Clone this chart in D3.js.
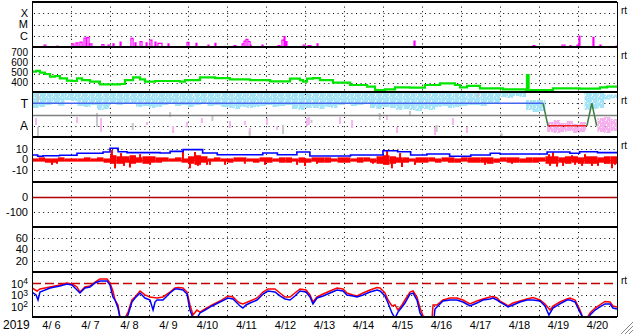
<!DOCTYPE html>
<html>
<head>
<meta charset="utf-8">
<script src="https://cdn.jsdelivr.net/npm/d3@7"></script>
<style>
body { margin: 0; background: #fff; }
svg { display: block; font-family: "Liberation Sans", Arial, sans-serif; }
</style>
</head>
<body>
<script>
// ---- data (hours since 2019-04-06 00:00 UT) ----

// x-ray flux events: [start hour, end hour, log10 W/m2]
const xrayEvents = [
  [7.4, 8.6, -6.82], [15.4, 16, -6.91], [24.6, 25.8, -6.73], [27.1, 28.3, -6.64],
  [29.5, 30.8, -6.56], [32, 33.2, -6.2], [33.8, 35.1, -6.14], [35.7, 36.9, -6.73],
  [43, 44.3, -6.78], [46.8, 48, -6.82], [49.8, 50.5, -6.73], [54.2, 54.8, -6.56],
  [60.9, 62.2, -6.23], [63.4, 64, -6.64], [66.5, 67.7, -6.53], [70.2, 70.8, -6.64],
  [72.6, 73.8, -6.38], [75.7, 76.3, -6.56], [77.5, 80, -6.67], [83.7, 84.3, -6.73],
  [95.4, 96.6, -6.58], [100.9, 101.5, -6.67], [108.3, 108.9, -6.82], [112.6, 113.2, -6.67],
  [124.3, 125.5, -6.88], [129.3, 130.5, -6.73], [130.5, 131.7, -6.47], [131.7, 132.9, -6.32],
  [132.9, 134.2, -6.51], [134.2, 134.8, -6.82], [141.5, 142.2, -6.82], [151.4, 152.6, -6.88],
  [153.8, 155.1, -6.38], [155.1, 155.7, -6.08], [156.3, 156.9, -6.53], [166.8, 168, -6.82],
  [169.8, 171.7, -6.88], [175.4, 176, -6.73], [235.1, 235.7, -6.47], [308.3, 309.5, -6.88],
  [326.2, 328, -6.82], [331.1, 331.7, -6.88], [335.4, 336, -6.82], [336.6, 337.2, -6.02],
  [345.2, 345.8, -6.14], [349.5, 350.2, -6.82], [359.4, 360, -6.91]
];

// solar wind speed km/s: [hour, value]
const windSpeed = [
  [0, 526], [2.5, 535], [4.9, 515], [8, 500], [11.1, 470], [14.2, 478], [17.2, 452],
  [21.5, 426], [24.6, 422], [27.7, 452], [30.8, 433], [35.7, 415], [41.8, 385], [48, 385],
  [54.2, 389], [57.2, 433], [62.2, 463], [66.5, 441], [69.5, 415], [75.7, 422], [81.8, 422],
  [91.1, 415], [94.2, 433], [103.4, 463], [112.6, 455], [121.8, 441], [134.2, 433],
  [146.5, 418], [158.8, 448], [164.9, 433], [166.8, 415], [169.2, 448], [172.9, 455],
  [177.2, 433], [185.2, 404], [195.7, 378], [206.2, 359], [211.1, 322], [217.2, 330],
  [223.4, 352], [232.6, 348], [241.8, 378], [251.1, 396], [260.3, 378], [263.4, 352],
  [267.7, 367], [275.7, 341], [281.8, 341], [289.8, 330], [300.3, 330], [304, 322],
  [304.6, 489], [305.6, 322], [312.6, 322], [320.6, 341], [324.9, 341], [337.2, 337],
  [349.5, 352], [353.8, 359], [360, 367]
];

// IMF sector: [hour, "T"/"A"]
const sector = [[0, "T"], [314.5, "T"], [317.5, "A"], [341.5, "A"], [344.5, "T"], [347.5, "A"]];

// IMF longitude scatter, 4 h bins: upper / lower angle (deg), null = no data
const cyanHi = [
  352,352,352,352,352,352,352,352,352,352, 352,352,352,352,352,352,352,352,352,352,
  352,352,352,352,352,352,352,352,352,352, 352,352,352,352,352,352,352,352,352,352,
  352,352,352,352,352,352,352,352,352,352, 352,352,352,352,352,352,352,352,352,352,
  352,352,352,352,352,352,352,352,352,352, 352,352,360,360,360,360,296,296,296,null,
  null,null,null,null,null,352,352,352,340,340
];
const cyanLo = [
  232,240,256,264,250,296,288,248,240,256, 216,224,264,256,272,264,240,248,232,240,
  256,264,248,256,240,256,264,248,256,240, 232,224,240,232,240,248,256,240,248,256,
  224,216,232,232,224,240,232,256,264,248, 256,264,232,224,240,232,216,224,216,208,
  224,216,240,248,232,240,248,256,256,248, 264,272,320,312,328,320,216,200,208,null,
  null,null,null,null,null,216,224,232,300,310
];
// narrow streaks: [hour, upper deg, lower deg]
const pinkStreaks = [
  [2.5, 152, 96], [27.7, 160, 112], [42.5, 152, 40], [70.8, 120, 96], [86.8, 88, 32],
  [95.4, 120, 80], [104.6, 152, 112], [121.8, 128, 72], [131, 128, 96], [134, 72, 16],
  [144.6, 152, 96], [150.8, 88, 56], [169.2, 152, 88], [170.4, 160, 96], [189.5, 160, 104],
  [197, 136, 72], [218.5, 176, 136], [224.6, 80, 32], [248, 80, 16], [259, 152, 96],
  [267.7, 80, 32]
];
// away-sector pink blocks: [start hour, end hour, upper deg, lower deg]
const pinkBlocks = [
  [317, 321, 120, 40], [321, 325, 136, 32], [325, 329, 112, 40], [329, 333, 128, 48],
  [333, 337, 104, 32], [337, 341, 120, 40], [348, 352, 152, 40], [352, 356, 160, 32],
  [356, 360, 144, 48]
];
const grayStreaks = [
  [3.7, 352, 272], [3.7, 80, 0], [40, 192, 80], [62, 112, 56], [85, 200, 160],
  [111, 176, 128], [134, 48, 8], [154.5, 96, 24], [172, 136, 112], [214, 192, 136],
  [232.6, 208, 168], [249, 96, 40], [274.5, 360, 320], [289, 32, 0]
];

// IMF Bt (nT): [hour, value]
const bt = [
  [0, 4.2], [3.5, 3], [6.8, 3.5], [17, 4], [27.7, 5.8], [43.7, 7], [48, 10.5], [53, 7.3],
  [58.5, 6.4], [78.8, 6], [85, 7.6], [93, 9.2], [105, 6], [114, 4.5], [142, 6], [151, 4.5],
  [163, 7], [171, 3.3], [196, 4.2], [216, 8.2], [225, 7.3], [233, 4.2], [243, 5.1],
  [257, 3], [270, 4.2], [282, 5.8], [288, 5.1], [317, 7], [331, 5.8], [337, 7.3],
  [348, 6.4], [360, 6.4]
];
// IMF Bz (nT), 4 h bins: typical high / low of the trace
const bzHi = [
  1,2,1,1,2,1,1,1,2,1, 2,1,4,3,3,4,2,3,3,2,
  2,1,2,1,3,4,3,1,2,1, 1,2,2,1,1,2,2,1,2,2,
  1,2,1,2,2,2,1,2,2,1, 2,2,1,3,4,3,2,2,1,2,
  2,2,1,2,2,1,2,2,2,2, 2,1,2,2,2,1,2,2,2,3,
  3,2,3,3,2,3,3,2,3,3
];
const bzLo = [
  -2,-2,-3,-3,-2,-2,-2,-2,-2,-2, -2,-3,-4,-4,-3,-4,-3,-4,-3,-3,
  -2,-2,-2,-3,-4,-5,-3,-2,-2,-2, -3,-2,-2,-2,-3,-2,-3,-2,-3,-3,
  -2,-3,-3,-2,-3,-3,-2,-3,-3,-2, -3,-2,-3,-4,-5,-4,-3,-3,-2,-3,
  -3,-2,-3,-2,-3,-3,-2,-3,-3,-3, -4,-3,-2,-3,-3,-3,-3,-3,-2,-4,
  -4,-3,-4,-3,-4,-4,-4,-3,-4,-4
];
// Bz excursions: [hour, nT]
const bzSpikes = [
  [12.3, -5], [15.4, -4], [49.2, 9], [51.1, -8.3], [54.8, 6], [56.6, -6], [60.3, -7.5],
  [66.5, 5], [72.6, -5], [92.9, 7.7], [97.2, -8.2], [100.3, 7], [102.2, -6], [107.7, -5],
  [109.5, -5], [118.8, -5], [131, -4], [143.4, -5], [163.1, -5], [168, -6], [175.4, -4],
  [209.8, -4], [218.5, 8.2], [221.5, -8.2], [226.5, 6], [227.7, -7], [235.7, -5],
  [278.8, -5], [295.4, -4], [318.2, 5], [318.8, -6], [320.6, 6.7], [323.1, -6.7],
  [326.8, -6], [332.3, 4], [334.2, -5], [338.5, -6], [340.3, 5], [344.6, -6], [348.3, -6],
  [352.6, -4], [356.9, -8.2], [358.8, -5]
];

// >2 MeV electron flux, log10: [hour, value]
const eRed = [
  [0,3.58],[3.1,3.31],[4.9,3.49],[11.1,3.67],[17.2,3.84],[21.5,4.02],[24.6,3.93],[27.7,3.67],
  [29.5,3.22],[32.6,3.67],[35.7,3.76],[38.8,4.11],[41.8,4.38],[46.2,4.38],[48,4.02],[49.8,3.31],
  [51.1,2.51],[52.9,2.07],[54.2,0.9],[57.2,0.9],[59.1,1.44],[61.5,2.51],[63.4,2.78],[66.5,3.31],
  [69.5,2.96],[72.6,2.78],[76.9,2.69],[80.6,2.78],[84.9,3.22],[88,3.58],[89.8,3.62],[92.9,3.58],
  [95.4,3.22],[97.2,2.07],[99.1,1.18],[101.5,1.62],[103.4,1.44],[106.5,1.71],[110.8,2.07],
  [115.7,2.42],[120.6,2.87],[123.7,2.78],[126.2,2.42],[128,2.24],[129.8,2.16],[134.2,2.42],
  [138.5,2.69],[142.2,3.22],[145.2,3.49],[149.5,3.49],[152.6,3.13],[155.7,2.78],[158.8,2.78],
  [161.8,3.13],[164.9,3.49],[168.6,3.4],[171.1,2.96],[172.9,2.33],[175.4,2.78],[179.1,3.04],
  [183.4,3.31],[187.7,3.58],[191.4,3.49],[193.8,3.13],[197.5,2.96],[200,2.87],[203.7,3.13],
  [208,3.4],[212.3,3.62],[214.2,3.58],[217.2,3.13],[219.1,2.51],[221.5,1.98],[223.4,2.07],
  [225.2,1.62],[227.7,2.07],[229.5,2.51],[232.6,3.22],[234.5,3.31],[236.9,2.78],[238.8,1.8],
  [240.6,1.09],[243.1,0.9],[246.2,0.9],[246.8,2.07],[249.2,2.07],[252.9,2.51],[257.2,2.69],
  [261.5,2.69],[265.2,2.51],[269.5,2.16],[273.8,2.42],[277.5,2.6],[281.8,2.78],[283.7,2.82],
  [286.2,2.69],[288,2.42],[291.1,2.16],[292.9,1.98],[296,2.24],[300.3,2.42],[304.6,2.6],
  [308.3,2.73],[312.6,2.51],[315.7,2.16],[318.8,1.62],[320.6,1.98],[324.9,2.33],[329.2,2.6],
  [331.1,2.69],[334.2,2.51],[337.2,1.62],[339.1,0.9],[341.5,0.9],[343.4,1.36],[346.5,1.8],
  [349.5,2.07],[352.6,2.38],[355.7,2.33],[357.5,1.98],[360,1.89]
];
const eBlue = [
  [0,3.22],[2.5,2.96],[3.7,2.51],[4.9,3.22],[11.1,3.58],[17.2,3.76],[21.5,3.93],[24.6,3.84],
  [27.7,3.4],[29.5,3.13],[32.6,3.58],[35.7,3.67],[38.8,4.02],[41.8,4.2],[46.2,4.2],[48,3.84],
  [49.8,2.78],[51.1,2.51],[52.9,1.8],[54.2,0.9],[57.8,0.9],[59.1,1.18],[61.5,2.33],[63.4,2.69],
  [66.5,3.13],[69.5,2.69],[72.6,2.51],[74.5,1.62],[75.7,2.33],[76.9,2.51],[80.6,2.51],
  [84.9,3.13],[88,3.49],[89.8,3.49],[92.9,3.4],[95.4,3.04],[97.2,1.62],[99.1,0.9],[101.5,0.9],
  [103.4,1.36],[106.5,1.62],[110.8,1.98],[115.7,2.33],[120.6,2.69],[123.7,2.6],[126.2,2.24],
  [128,1.98],[129.8,1.8],[131.7,2.07],[134.2,2.24],[138.5,2.51],[142.2,3.04],[145.2,3.31],
  [149.5,3.22],[152.6,2.87],[155.7,2.6],[158.8,2.51],[161.8,2.87],[164.9,3.31],[168.6,3.22],
  [171.1,2.78],[172.9,2.16],[175.4,2.69],[179.1,2.87],[183.4,3.13],[187.7,3.4],[191.4,3.31],
  [193.8,2.96],[197.5,2.87],[200,2.78],[203.7,2.96],[208,3.22],[212.3,3.4],[214.2,3.31],
  [217.2,2.87],[219.1,2.24],[221.5,1.36],[223.4,0.9],[225.2,1.44],[227.7,1.89],[229.5,2.24],
  [232.6,3.04],[234.5,3.13],[236.9,2.51],[238.8,1.36],[240.6,0.9],[247.4,0.9],[248,1.71],
  [249.2,1.89],[252.9,2.42],[257.2,2.51],[261.5,2.51],[265.2,2.33],[269.5,1.98],[273.8,2.24],
  [277.5,2.51],[281.8,2.6],[283.7,2.69],[286.2,2.51],[288,2.33],[291.1,2.07],[292.9,1.89],
  [296,2.07],[300.3,2.33],[304.6,2.51],[308.3,2.51],[312.6,2.42],[315.7,1.98],[318.1,1.18],
  [320.6,1.8],[324.9,2.16],[329.2,2.51],[331.1,2.51],[334.2,2.33],[337.2,1.44],[339.1,0.9],
  [342.8,0.9],[343.4,1.18],[346.5,1.62],[349.5,1.89],[352.6,2.16],[355.7,2.16],[357.5,1.8],
  [360,1.71]
];

// tick labels
const xrayTicks = [1e-4, 1e-5, 1e-6], xrayLabels = ["X", "M", "C"];
const speedTicks = [700, 600, 500, 400];
const sectorTicks = [270, 90], sectorLabels = ["T", "A"];
const imfTicks = [10, 0, -10];
const dstTicks = [0, -100];
const p6Ticks = [60, 40, 20];
const fluxTicks = [4, 3, 2];
const yearLabel = "2019";

// ---- layout ----
const W = 633, H = 334, L = 32, R = 617;
const tops = [2, 47, 92, 137, 182, 227, 272], ph = 45;
const rng = i => [tops[i] + ph, tops[i]];
const t0 = Date.UTC(2019, 3, 6);
const toDate = h => new Date(t0 + h * 3600e3);

const x = d3.scaleUtc().domain([toDate(0), toDate(360)]).range([L, R]);
const yXray = d3.scaleLog().domain([1e-7, 1e-3]).range(rng(0));
const ySpeed = d3.scaleLinear().domain([300, 800]).range(rng(1));
const yPhi = d3.scaleLinear().domain([0, 360]).range(rng(2));
const yImf = d3.scaleLinear().domain([-21, 21]).range(rng(3));
const yDst = d3.scaleLinear().domain([-200, 100]).range(rng(4));
const yP6 = d3.scaleLinear().domain([0, 80]).range(rng(5));
const yFlux = d3.scaleLog().domain([10, 1e5]).range(rng(6));
// speed labels sit on a slightly wider spacing than the grid
const ySpeedLabel = d3.scaleLinear().domain([400, 700]).range([ySpeed(400) - 0.5, ySpeed(400) - 31]);

const svg = d3.select("body").append("svg").attr("width", W).attr("height", H);
const defs = svg.append("defs");
tops.forEach((t, i) => {
  defs.append("clipPath").attr("id", "clip" + i).append("rect")
    .attr("x", L).attr("y", t).attr("width", R - L).attr("height", ph);
});
// speckle patterns for the scatter points
function speckle(id, color) {
  const p = defs.append("pattern").attr("id", id).attr("patternUnits", "userSpaceOnUse")
    .attr("width", 7).attr("height", 6);
  [[0, 0, 3, 3], [2, 1, 3, 3], [4, 0, 2, 4], [0, 3, 4, 3], [5, 2, 2, 4], [6, 0, 1, 1]]
    .forEach(r => p.append("rect").attr("x", r[0]).attr("y", r[1])
      .attr("width", r[2]).attr("height", r[3]).attr("fill", color));
}
speckle("cyanDots", "#a4e4f8");
speckle("pinkDots", "#f6b0f0");

const layer = i => svg.append("g").attr("clip-path", `url(#clip${i})`);

const dotted = "1,3.6";
function hgrid(scale, vals, color = "#000", dash = dotted, w = 1) {
  svg.append("g").selectAll("line").data(vals).join("line")
    .attr("x1", L + 2).attr("x2", R)
    .attr("y1", d => Math.round(scale(d)) + 0.5).attr("y2", d => Math.round(scale(d)) + 0.5)
    .attr("stroke", color).attr("stroke-width", w).attr("stroke-dasharray", dash);
}
function ylabels(scale, vals, fmt, size = 11) {
  svg.append("g").selectAll("text").data(vals).join("text")
    .attr("x", 28).attr("y", d => scale(d)).attr("dy", "0.36em")
    .attr("text-anchor", "end").attr("font-size", size)
    .text((d, i) => fmt ? fmt(d, i) : d);
}

// horizontal grid
hgrid(yXray, xrayTicks);
hgrid(ySpeed, speedTicks);
hgrid(yPhi, sectorTicks);
hgrid(yImf, [10, -10]);
hgrid(yDst, [-100]);
hgrid(yP6, p6Ticks);
hgrid(yFlux, [1e3, 1e2]);

// vertical day grid
const days = d3.utcDay.range(toDate(24), toDate(359));
svg.append("g").selectAll("line").data(days).join("line")
  .attr("x1", d => Math.round(x(d)) + 0.5).attr("x2", d => Math.round(x(d)) + 0.5)
  .attr("y1", tops[0]).attr("y2", tops[6] + ph)
  .attr("stroke", "#000").attr("stroke-dasharray", dotted);

// panel 1: x-ray
const xrayPts = [[0, -7.5]];
xrayEvents.forEach(([a, b, v]) => { xrayPts.push([a, -7.5], [a, v], [b, v], [b, -7.5]); });
xrayPts.push([360, -7.5]);
layer(0).append("path").datum(xrayPts)
  .attr("fill", "none").attr("stroke", "#ff00ff").attr("stroke-width", 1.2)
  .attr("d", d3.line().x(d => x(toDate(d[0]))).y(d => yXray(10 ** d[1])));

// panel 2: wind speed
layer(1).append("path").datum(windSpeed)
  .attr("fill", "none").attr("stroke", "#00e600").attr("stroke-width", 2.2)
  .attr("d", d3.line().curve(d3.curveStepAfter).x(d => x(toDate(d[0]))).y(d => ySpeed(d[1])));

// panel 3: IMF sector
const g3 = layer(2);
const bins = d3.range(cyanLo.length);
g3.append("g").selectAll("rect").data(bins.filter(i => cyanLo[i] != null)).join("rect")
  .attr("x", i => x(toDate(i * 4))).attr("width", i => x(toDate(i * 4 + 4)) - x(toDate(i * 4)))
  .attr("y", i => yPhi(cyanHi[i])).attr("height", i => yPhi(cyanLo[i]) - yPhi(cyanHi[i]))
  .attr("fill", "url(#cyanDots)");
g3.append("g").selectAll("rect").data(pinkBlocks).join("rect")
  .attr("x", d => x(toDate(d[0]))).attr("width", d => x(toDate(d[1])) - x(toDate(d[0])))
  .attr("y", d => yPhi(d[2])).attr("height", d => yPhi(d[3]) - yPhi(d[2]))
  .attr("fill", "url(#pinkDots)");
[[pinkStreaks, "#f6b6f2"], [grayStreaks, "#c8c8c8"]].forEach(([arr, c]) => {
  g3.append("g").selectAll("rect").data(arr).join("rect")
    .attr("x", d => x(toDate(d[0])) - 1).attr("width", 2)
    .attr("y", d => yPhi(d[1])).attr("height", d => yPhi(d[2]) - yPhi(d[1]))
    .attr("fill", c);
});
g3.append("line").attr("x1", L).attr("x2", R)
  .attr("y1", Math.round(yPhi(180)) + 0.5).attr("y2", Math.round(yPhi(180)) + 0.5)
  .attr("stroke", "#808080").attr("stroke-width", 1.5);
const secY = s => yPhi(s === "T" ? 270 : 90);
d3.pairs(sector).forEach(([a, b]) => {
  const col = a[1] !== b[1] ? "#408040" : (a[1] === "T" ? "#4466ee" : "#ee2222");
  g3.append("line")
    .attr("x1", x(toDate(a[0]))).attr("x2", x(toDate(b[0])))
    .attr("y1", secY(a[1])).attr("y2", secY(b[1]))
    .attr("stroke", col).attr("stroke-width", 1.5);
});

// panel 4: IMF Bt / Bz
const g4 = layer(3);
g4.append("line").attr("x1", L).attr("x2", R)
  .attr("y1", Math.round(yImf(0)) + 0.5).attr("y2", Math.round(yImf(0)) + 0.5)
  .attr("stroke", "#ee0000").attr("stroke-width", 1);
g4.append("g").selectAll("rect").data(d3.range(bzHi.length)).join("rect")
  .attr("x", i => x(toDate(i * 4))).attr("width", i => x(toDate(i * 4 + 4)) - x(toDate(i * 4)))
  .attr("y", i => yImf(bzHi[i])).attr("height", i => yImf(bzLo[i]) - yImf(bzHi[i]))
  .attr("fill", "#ff0000");
g4.append("g").selectAll("line").data(bzSpikes).join("line")
  .attr("x1", d => x(toDate(d[0]))).attr("x2", d => x(toDate(d[0])))
  .attr("y1", yImf(0)).attr("y2", d => yImf(d[1]))
  .attr("stroke", "#ff0000").attr("stroke-width", 2);
g4.append("path").datum(bt)
  .attr("fill", "none").attr("stroke", "#0000ff").attr("stroke-width", 1.6)
  .attr("d", d3.line().curve(d3.curveStepAfter).x(d => x(toDate(d[0]))).y(d => yImf(d[1])));

// panel 5: zero line
layer(4).append("line").attr("x1", L).attr("x2", R)
  .attr("y1", Math.round(yDst(0)) + 0.5).attr("y2", Math.round(yDst(0)) + 0.5)
  .attr("stroke", "#b00000").attr("stroke-width", 1.5);

// panel 7: electrons
const g7 = layer(6);
g7.append("line").attr("x1", L).attr("x2", R)
  .attr("y1", Math.round(yFlux(1e4)) + 0.5).attr("y2", Math.round(yFlux(1e4)) + 0.5)
  .attr("stroke", "#c00000").attr("stroke-width", 1.5).attr("stroke-dasharray", "9,4");
const eLine = d3.line().x(d => x(toDate(d[0]))).y(d => yFlux(10 ** d[1]));
g7.append("path").datum(eRed).attr("fill", "none").attr("stroke", "#ff0000")
  .attr("stroke-width", 1.5).attr("d", eLine);
g7.append("path").datum(eBlue).attr("fill", "none").attr("stroke", "#0000ff")
  .attr("stroke-width", 1.5).attr("d", eLine);

// frame
svg.append("g").selectAll("line").data(tops.concat([tops[6] + ph])).join("line")
  .attr("x1", L).attr("x2", R).attr("y1", d => d).attr("y2", d => d)
  .attr("stroke", "#000").attr("stroke-width", 2);
[L, R].forEach(v => svg.append("line").attr("x1", v + 0.5).attr("x2", v + 0.5)
  .attr("y1", tops[0]).attr("y2", tops[6] + ph).attr("stroke", "#000"));

// y labels
ylabels(yXray, xrayTicks, (d, i) => xrayLabels[i]);
ylabels(ySpeedLabel, speedTicks, null, 10);
ylabels(yPhi, sectorTicks, (d, i) => sectorLabels[i], 12);
ylabels(yImf, imfTicks);
ylabels(yDst, dstTicks);
ylabels(yP6, p6Ticks);
const fl = svg.append("g").selectAll("text").data(fluxTicks).join("text")
  .attr("x", 28).attr("y", d => yFlux(10 ** d)).attr("dy", "0.45em")
  .attr("text-anchor", "end").attr("font-size", 11);
fl.append("tspan").text("10");
fl.append("tspan").attr("dy", "-0.45em").attr("font-size", 8.5).text(d => d);

// "rt" marks
svg.append("g").selectAll("text").data([0, 1, 2, 3, 6]).join("text")
  .attr("x", 621).attr("y", i => tops[i] + 12).attr("font-size", 10).text("rt");

// time axis
const noons = d3.utcDay.range(toDate(0), toDate(360)).map(d => d3.utcHour.offset(d, 12));
const fmt = d => (d.getUTCMonth() + 1) + "/" + String(d.getUTCDate()).padStart(2, " ");
svg.append("g").selectAll("text").data(noons).join("text")
  .attr("x", d => x(d)).attr("y", 329).attr("text-anchor", "middle")
  .attr("font-size", 11).style("white-space", "pre").text(fmt);
svg.append("text").attr("x", 3).attr("y", 329).attr("font-size", 12).text(yearLabel);

// window resize grip
svg.append("g").selectAll("line").data([4, 8, 12]).join("line")
  .attr("x1", k => W - k).attr("y1", H).attr("x2", W).attr("y2", k => H - k)
  .attr("stroke", "#888").attr("stroke-width", 1);
</script>
</body>
</html>
